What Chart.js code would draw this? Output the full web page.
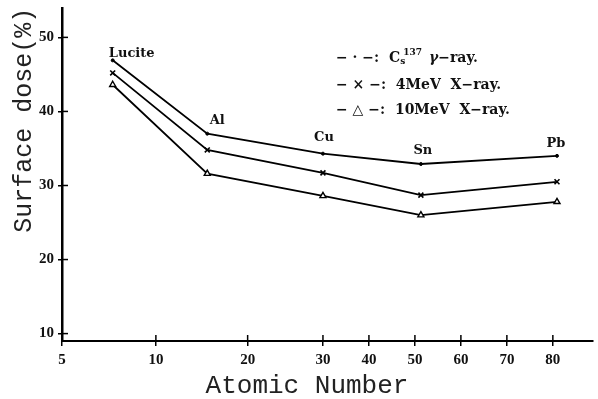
<!DOCTYPE html>
<html lang="en">
<head>
<meta charset="UTF-8">
<title>Surface dose vs atomic number</title>
<script src="https://cdn.jsdelivr.net/npm/chart.js"></script>
<style>
body { margin:0; padding:0; background:#fff; }
#wrap { width:598px; height:399px; }
</style>
</head>
<body>
<div id="wrap"><canvas id="chart"></canvas></div>

<script>
// values
const materials = ['Lucite', 'Al', 'Cu', 'Sn', 'Pb'];
const atomicNo  = [7.7, 15.6, 30, 51.3, 80.9];
const csGamma   = [46.9, 37.0, 34.3, 32.9, 34.0];
const xray4MeV  = [45.2, 34.8, 31.7, 28.7, 30.5];
const xray10MeV = [43.6, 31.6, 28.6, 26.0, 27.8];
const xTicks = [5, 10, 20, 30, 40, 50, 60, 70, 80];
const yTicks = [10, 20, 30, 40, 50];

// the original x axis is hand-spaced: 5-10-20-30 wide, then even steps
const xBreaks   = [5, 10, 20, 30, 88.6];
const xBreakPos = [0, 0.177, 0.350, 0.492, 1];

function interp(v, from, to) {
  for (let i = 0; i < from.length - 1; i++) {
    if (v <= from[i + 1] || i === from.length - 2) {
      const t = (v - from[i]) / (from[i + 1] - from[i]);
      return to[i] + t * (to[i + 1] - to[i]);
    }
  }
  return to[0];
}

class BrokenScale extends Chart.LinearScale {
  getPixelForValue(v) { return this.getPixelForDecimal(interp(v, xBreaks, xBreakPos)); }
  getValueForPixel(p) { return interp(this.getDecimalForPixel(p), xBreakPos, xBreaks); }
}
BrokenScale.id = 'broken';
BrokenScale.defaults = Chart.LinearScale.defaults;
Chart.register(BrokenScale);

const pts = arr => arr.map((y, i) => ({x: atomicNo[i], y: y}));

// label offsets (px) from the top curve
const labelShift = [[19, -7], [10, -13], [1, -16], [2, -13], [-1, -12]];

const decor = {
  id: 'decor',
  afterDraw(chart) {
    const c = chart.ctx, a = chart.chartArea;
    const xs = chart.scales.x, ys = chart.scales.y;
    c.save();
    c.strokeStyle = '#000';
    c.lineWidth = 1.5;
    // inner halves of the crossing ticks
    xTicks.forEach(v => {
      const px = xs.getPixelForValue(v);
      c.beginPath(); c.moveTo(px, a.bottom); c.lineTo(px, a.bottom - 6); c.stroke();
    });
    yTicks.forEach(v => {
      const py = ys.getPixelForValue(v);
      c.beginPath(); c.moveTo(a.left, py); c.lineTo(a.left + 6, py); c.stroke();
    });

    // material names
    c.fillStyle = '#111';
    c.font = 'bold 13px "DejaVu Serif"';
    c.textAlign = 'center';
    c.textBaseline = 'middle';
    const top = chart.getDatasetMeta(0).data;
    materials.forEach((m, i) => {
      c.fillText(m, top[i].x + labelShift[i][0], top[i].y + labelShift[i][1]);
    });

    // legend block
    c.textAlign = 'left';
    const lx = 336;
    let x = lx, y = 58;
    const f = 'bold 14px "DejaVu Serif"';
    c.font = f;
    c.fillText('− · −:  C', x, y); x += c.measureText('− · −:  C').width;
    c.font = 'bold 9px "DejaVu Serif"';
    c.fillText('s', x, y + 4);
    c.fillText('137', x + 3, y - 5); x += c.measureText('s137').width + 5;
    c.font = 'italic bold 14px "DejaVu Serif"';
    c.fillText('γ', x, y); x += c.measureText('γ').width;
    c.font = f;
    c.fillText('−ray.', x, y);
    c.fillText('− × −:  4MeV  X−ray.', lx, 85);
    c.fillText('− △ −:  10MeV  X−ray.', lx, 110);

    // x title
    c.font = '26px "Liberation Mono"';
    c.fillStyle = '#222';
    c.textAlign = 'center';
    c.fillText('Atomic Number', 307, 386);
    c.restore();
  }
};

const tickFont = {family: 'Liberation Serif', weight: 'bold', size: 15};

new Chart(document.getElementById('chart'), {
  type: 'line',
  data: {
    datasets: [
      {label: 'Cs137 γ-ray', data: pts(csGamma), borderColor: '#000', backgroundColor: '#000',
       borderWidth: 1.8, pointStyle: 'circle', pointRadius: 1.5, pointBorderWidth: 1},
      {label: '4MeV X-ray', data: pts(xray4MeV), borderColor: '#000', backgroundColor: '#000',
       borderWidth: 1.8, pointStyle: 'crossRot', pointRadius: 3.5, pointBorderWidth: 1.6},
      {label: '10MeV X-ray', data: pts(xray10MeV), borderColor: '#000', backgroundColor: '#fff',
       borderWidth: 1.8, pointStyle: 'triangle', pointRadius: 3.5, pointBorderWidth: 1.4}
    ]
  },
  options: {
    responsive: true,
    maintainAspectRatio: false,
    animation: false,
    layout: {padding: {top: 0, right: 0, left: 0, bottom: 0}},
    plugins: {legend: {display: false}, tooltip: {enabled: false}},
    scales: {
      x: {
        type: 'broken', min: 5, max: 88.6,
        afterBuildTicks: s => { s.ticks = xTicks.map(v => ({value: v})); },
        afterFit: s => { s.height = 58; },
        border: {color: '#000', width: 2},
        grid: {drawOnChartArea: false, drawTicks: true, tickLength: 5, color: '#000', lineWidth: 1.5},
        ticks: {font: tickFont, color: '#111', padding: 5, maxRotation: 0, callback: v => String(v)}
      },
      y: {
        min: 9, max: 54,
        afterBuildTicks: s => { s.ticks = yTicks.map(v => ({value: v})); },
        afterFit: s => { s.width = 62; },
        border: {color: '#000', width: 2.5},
        grid: {drawOnChartArea: false, drawTicks: true, tickLength: 4, color: '#000', lineWidth: 1.5},
        ticks: {font: Object.assign({}, tickFont, {lineHeight: 0.5}), color: '#111', padding: 4,
                callback: v => String(v)},
        title: {display: true, text: 'Surface dose(%)', align: 'end', color: '#222',
                font: {family: 'Liberation Mono', size: 25}, padding: {top: 9, bottom: 0}}
      }
    }
  },
  plugins: [decor]
});
</script>
</body>
</html>
